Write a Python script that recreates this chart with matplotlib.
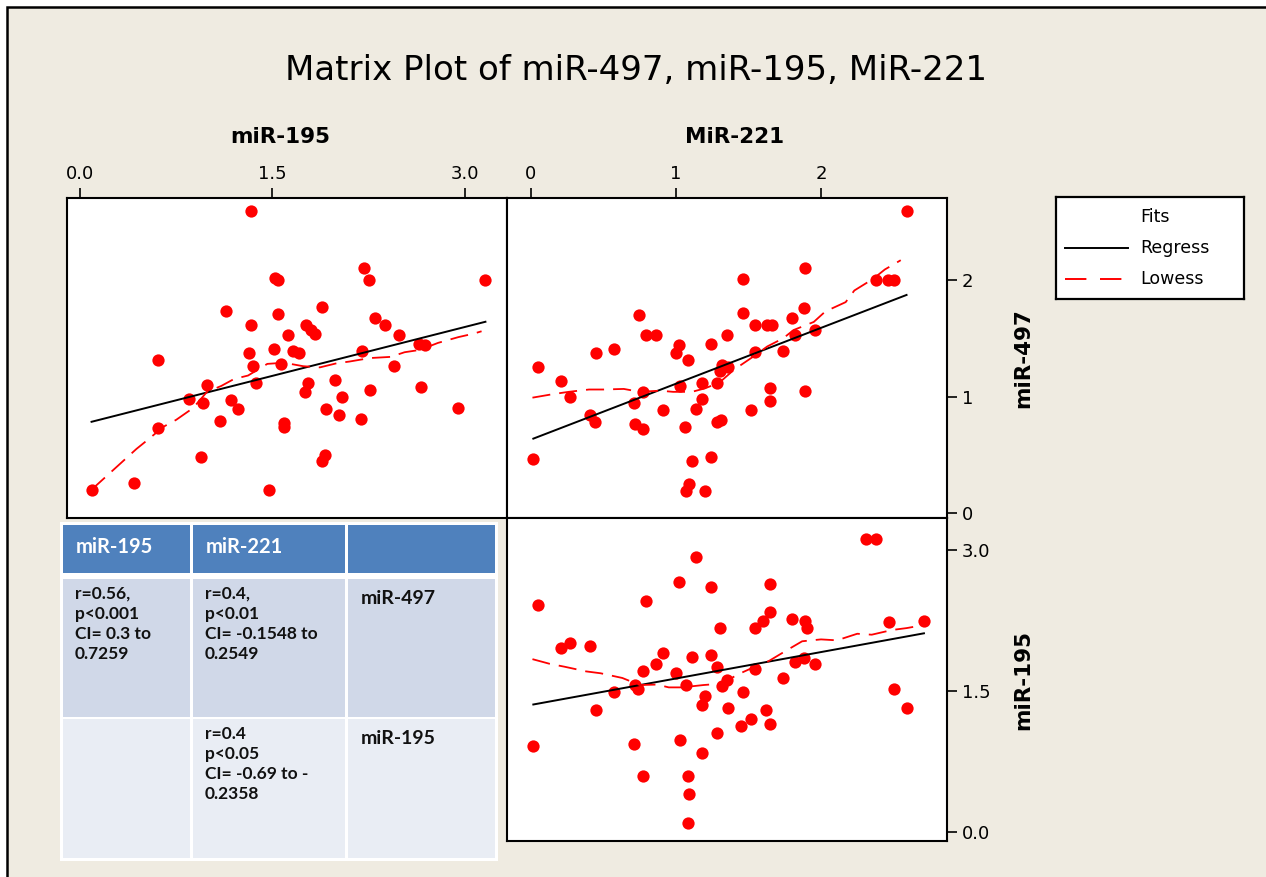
import numpy as np
import matplotlib
matplotlib.use("Agg")
import matplotlib.pyplot as plt
from matplotlib.patches import Rectangle
from matplotlib.lines import Line2D

W, H = 1266, 877

# panel 1: miR-195 (x) vs miR-497 (y)
p1_mir195 = [1.33, 1.52, 1.54, 2.21, 2.25, 3.16, 1.14, 1.54, 1.89, 1.33, 1.76, 1.80, 1.83, 1.62,
             2.30, 2.38, 2.49, 1.51, 1.32, 1.66, 1.71, 2.20, 2.64, 2.69, 0.61, 1.35, 1.57, 2.45,
             0.99, 1.37, 1.78, 1.75, 1.99, 2.26, 2.66, 0.85, 0.96, 1.18, 1.23, 2.04, 1.92, 2.02,
             2.19, 2.95, 1.09, 1.59, 1.59, 0.61, 0.94, 1.91, 1.89, 0.42, 0.09, 1.47]
p1_mir497 = [2.59, 2.02, 2.00, 2.10, 2.00, 2.00, 1.73, 1.71, 1.77, 1.61, 1.61, 1.57, 1.54, 1.53,
             1.67, 1.61, 1.53, 1.41, 1.37, 1.39, 1.37, 1.39, 1.45, 1.44, 1.31, 1.26, 1.28, 1.26,
             1.10, 1.12, 1.12, 1.04, 1.14, 1.06, 1.08, 0.98, 0.94, 0.97, 0.89, 1.00, 0.89, 0.84,
             0.81, 0.90, 0.79, 0.77, 0.74, 0.73, 0.48, 0.50, 0.45, 0.26, 0.20, 0.20]
# lowess fit
p1_low_x = [0.09, 0.31, 0.44, 0.53, 0.65, 0.75, 0.88, 0.99, 1.10, 1.20, 1.31, 1.46, 1.59, 1.74,
            1.87, 2.00, 2.10, 2.26, 2.42, 2.53, 2.65, 2.79, 2.95, 3.07, 3.13]
p1_low_y = [0.20, 0.42, 0.55, 0.63, 0.74, 0.80, 0.90, 1.04, 1.09, 1.15, 1.18, 1.28, 1.29, 1.26,
            1.25, 1.285, 1.30, 1.33, 1.34, 1.38, 1.40, 1.46, 1.51, 1.54, 1.56]

# panel 2: MiR-221 (x) vs miR-497 (y)
p2_mir221 = [2.59, 1.89, 1.46, 2.38, 2.46, 2.50, 1.46, 1.88, 0.745, 0.79, 0.86, 1.545, 1.625, 1.66,
             1.80, 1.35, 1.24, 1.02, 1.00, 1.08, 0.575, 0.45, 0.046, 1.545, 1.74, 1.82, 1.96,
             1.315, 1.36, 1.30, 0.21, 1.03, 1.18, 1.285, 0.77, 0.27, 1.65, 1.65, 1.89, 0.71,
             1.18, 1.14, 0.91, 1.515, 0.41, 0.44, 0.72, 0.775, 1.28, 1.31, 1.06, 0.016, 1.11,
             1.24, 1.09, 1.07, 1.20]
p2_mir497 = [2.59, 2.10, 2.01, 2.00, 2.00, 2.00, 1.72, 1.76, 1.70, 1.53, 1.53, 1.61, 1.61, 1.61,
             1.67, 1.53, 1.45, 1.44, 1.37, 1.31, 1.41, 1.37, 1.25, 1.38, 1.39, 1.53, 1.57,
             1.27, 1.25, 1.22, 1.135, 1.09, 1.115, 1.115, 1.04, 0.995, 1.07, 0.96, 1.05, 0.94,
             0.98, 0.89, 0.88, 0.88, 0.84, 0.78, 0.76, 0.72, 0.78, 0.80, 0.74, 0.46, 0.445,
             0.48, 0.25, 0.19, 0.19]
p2_low_x = [0.01, 0.15, 0.26, 0.40, 0.50, 0.64, 0.75, 0.89, 0.98, 1.11, 1.20, 1.30, 1.40, 1.53,
            1.63, 1.74, 1.81, 1.95, 2.03, 2.17, 2.23, 2.36, 2.44, 2.55]
p2_low_y = [0.99, 1.02, 1.04, 1.06, 1.06, 1.065, 1.04, 1.05, 1.04, 1.04, 1.07, 1.12, 1.23, 1.34,
            1.43, 1.50, 1.57, 1.64, 1.73, 1.81, 1.91, 2.01, 2.09, 2.17]

# panel 3: MiR-221 (x) vs miR-195 (y)
p3_mir221 = [2.31, 2.38, 1.14, 1.02, 1.24, 1.65, 0.046, 0.79, 1.65, 1.60, 1.545, 1.30, 1.80, 1.89,
             1.90, 2.47, 2.71, 0.21, 0.27, 0.41, 0.91, 1.11, 1.24, 0.86, 1.285, 1.545, 1.82,
             1.88, 1.96, 0.77, 1.00, 1.74, 1.35, 0.72, 0.74, 1.07, 1.32, 0.575, 1.46, 2.50,
             1.20, 1.18, 0.45, 1.36, 1.62, 2.59, 1.515, 1.45, 1.65, 1.28, 0.016, 0.71, 1.03,
             1.18, 0.77, 1.08, 1.09, 1.08]
p3_mir195 = [3.12, 3.12, 2.93, 2.66, 2.61, 2.64, 2.42, 2.46, 2.34, 2.245, 2.17, 2.17, 2.27, 2.245,
             2.17, 2.23, 2.245, 1.955, 2.01, 1.98, 1.91, 1.86, 1.88, 1.785, 1.76, 1.735, 1.81,
             1.855, 1.785, 1.71, 1.69, 1.64, 1.62, 1.57, 1.52, 1.565, 1.55, 1.49, 1.49, 1.52,
             1.45, 1.35, 1.30, 1.32, 1.30, 1.32, 1.20, 1.13, 1.15, 1.06, 0.92, 0.94, 0.98,
             0.84, 0.60, 0.60, 0.41, 0.095]
p3_low_x = [0.01, 0.13, 0.23, 0.38, 0.48, 0.63, 0.75, 0.87, 0.95, 1.04, 1.19, 1.315, 1.43, 1.53,
            1.64, 1.77, 1.87, 2.00, 2.11, 2.25, 2.35, 2.49, 2.59, 2.70]
p3_low_y = [1.84, 1.79, 1.76, 1.71, 1.69, 1.64, 1.565, 1.57, 1.54, 1.54, 1.565, 1.58, 1.68, 1.75,
            1.82, 1.94, 2.03, 2.05, 2.04, 2.11, 2.10, 2.15, 2.17, 2.20]

table_header = ["miR-195", "miR-221", ""]
table_rows = [
    ["r=0.56,\np<0.001\nCI= 0.3 to\n0.7259", "r=0.4,\np<0.01\nCI= -0.1548 to\n0.2549", "miR-497"],
    ["", "r=0.4\np<0.05\nCI= -0.69 to -\n0.2358", "miR-195"],
]

BG = "#EFEBE1"
DOT = "#FF0000"


def fbox(x0, y0, x1, y1):
    return [x0 / W, 1 - y1 / H, (x1 - x0) / W, (y1 - y0) / H]


def panel(ax, x, y, lx, ly):
    ax.set_facecolor("white")
    ax.scatter(x, y, s=78, color=DOT, zorder=3, linewidths=0)
    k, c = np.polyfit(x, y, 1)
    xs = np.array([min(x), max(x)])
    ax.plot(xs, k * xs + c, color="black", lw=1.4, zorder=4)
    ax.plot(lx, ly, color=DOT, lw=1.3, dashes=(10, 5), zorder=4)
    for s in ax.spines.values():
        s.set_linewidth(1.5)
    ax.tick_params(direction="out", length=7, width=1.2, labelsize=13,
                   bottom=False, left=False, labelbottom=False, labelleft=False)


plt.rcParams["font.family"] = "DejaVu Sans"

fig = plt.figure(figsize=(W / 100, H / 100), dpi=100)
fig.patch.set_facecolor("white")
fig.patches.append(Rectangle((7 / W, -0.05), 1.1, 1 - 7 / H + 0.05, transform=fig.transFigure,
                             facecolor=BG, edgecolor="black", lw=1.8, zorder=-5))

ax1 = fig.add_axes(fbox(67, 198, 507, 518))
ax2 = fig.add_axes(fbox(507, 198, 947, 518))
ax3 = fig.add_axes(fbox(507, 518, 947, 841))

panel(ax1, p1_mir195, p1_mir497, p1_low_x, p1_low_y)
panel(ax2, p2_mir221, p2_mir497, p2_low_x, p2_low_y)
panel(ax3, p3_mir221, p3_mir195, p3_low_x, p3_low_y)

ax1.set_xlim(-13 / 128.3, 427 / 128.3)
ax1.set_ylim(-5 / 116.5, 315 / 116.5)
ax1.xaxis.set_ticks_position("top")
ax1.set_xticks([0, 1.5, 3.0], ["0.0", "1.5", "3.0"])
ax1.tick_params(top=True, labeltop=True)

ax2.set_xlim(-24 / 145, 416 / 145)
ax2.set_ylim(-5 / 116.5, 315 / 116.5)
ax2.set_xticks([0, 1, 2], ["0", "1", "2"])
ax2.set_yticks([0, 1, 2], ["0", "1", "2"])
ax2.tick_params(top=True, labeltop=True, right=True, labelright=True)

ax3.set_xlim(-24 / 145, 416 / 145)
ax3.set_ylim(-8.7 / 94.1, 314.3 / 94.1)
ax3.set_xticks([])
ax3.set_yticks([0, 1.5, 3.0], ["0.0", "1.5", "3.0"])
ax3.tick_params(right=True, labelright=True)

fig.text(636 / W, 1 - 70 / H, "Matrix Plot of miR-497, miR-195, MiR-221", ha="center", va="center",
         fontsize=24.5)
fig.text(280 / W, 1 - 137 / H, "miR-195", ha="center", va="center", fontsize=15.5, fontweight="bold")
fig.text(735 / W, 1 - 137 / H, "MiR-221", ha="center", va="center", fontsize=15.5, fontweight="bold")
fig.text(1023 / W, 1 - 358 / H, "miR-497", ha="center", va="center", fontsize=15.5,
         fontweight="bold", rotation=90)
fig.text(1023 / W, 1 - 680 / H, "miR-195", ha="center", va="center", fontsize=15.5,
         fontweight="bold", rotation=90)

# legend box
lg = fig.add_axes(fbox(1056, 197, 1244, 299))
lg.set_xlim(0, 188)
lg.set_ylim(102, 0)
lg.set_xticks([])
lg.set_yticks([])
for s in lg.spines.values():
    s.set_linewidth(1.6)
lg.text(84, 20, "Fits", va="center", fontsize=12.5)
lg.add_line(Line2D([9, 72], [51, 51], color="black", lw=1.4))
lg.text(84, 51, "Regress", va="center", fontsize=12.5)
lg.add_line(Line2D([9, 72], [82, 82], color=DOT, lw=1.4, dashes=(11, 7)))
lg.text(84, 82, "Lowess", va="center", fontsize=12.5)

# correlation table
cols = [(63, 190), (193, 345), (348, 495)]
rows = [(525, 573), (579, 717), (719, 858)]
fills = ["#4F81BD", "#D0D8E8", "#E9EDF4"]
fig.patches.append(Rectangle((60 / W, 1 - 861 / H), 438 / W, 339 / H, transform=fig.transFigure,
                             facecolor="white", edgecolor="none", zorder=1))
cells = [table_header] + table_rows
for ri, (y0, y1) in enumerate(rows):
    for ci, (x0, x1) in enumerate(cols):
        fig.patches.append(Rectangle((x0 / W, 1 - y1 / H), (x1 - x0) / W, (y1 - y0) / H,
                                     transform=fig.transFigure, facecolor=fills[ri],
                                     edgecolor="none", zorder=2))
        txt = cells[ri][ci]
        if not txt:
            continue
        if ri == 0:
            fig.text((x0 + 13) / W, 1 - 547 / H, txt, ha="left", va="center", fontsize=14.5,
                     fontweight="bold", color="white", family="Lato")
        elif ci == 2:
            fig.text((x0 + 13) / W, 1 - (y0 + 20) / H, txt, ha="left", va="center", fontsize=14,
                     fontweight="bold", color="#111111", family="Lato")
        else:
            fig.text((x0 + 12) / W, 1 - (y0 + 7) / H, txt, ha="left", va="top", fontsize=12.5,
                     fontweight="bold", color="#111111", family="Lato", linespacing=1.3)

fig.savefig("out.png", dpi=100, facecolor=fig.get_facecolor())
